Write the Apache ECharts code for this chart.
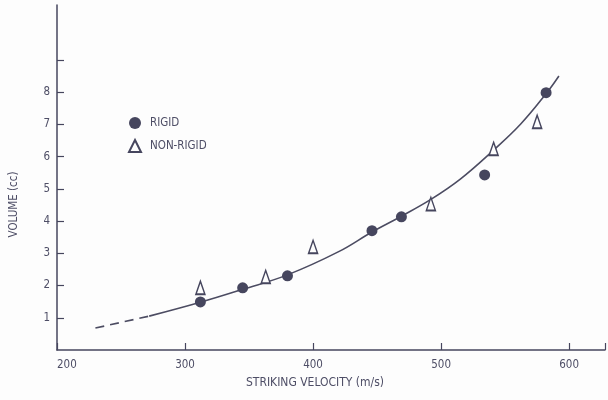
<!DOCTYPE html>
<html>
<head>
<meta charset="utf-8">
<script src="https://cdn.jsdelivr.net/npm/echarts@6/dist/echarts.min.js"></script>
<style>
html,body{margin:0;padding:0;background:#fdfdfd;}
#c{width:608px;height:400px;}
</style>
</head>
<body>
<div id="c"></div>
<script>
// Data
var rigidX = [312, 345, 380, 446, 469, 534, 582];
var rigidY = [1.49, 1.93, 2.30, 3.70, 4.13, 5.43, 7.98];
var nonRigidX = [312, 363, 400, 492, 541, 575];
var nonRigidY = [1.93, 2.27, 3.20, 4.53, 6.24, 7.08];
// fitted curve
var curveX = [272, 312, 345, 380, 420, 446, 469, 492, 515, 541, 562, 582, 592];
var curveY = [1.05, 1.48, 1.88, 2.33, 3.05, 3.66, 4.15, 4.67, 5.3, 6.2, 7.0, 7.95, 8.5];
var dashX = [230, 272];
var dashY = [0.68, 1.05];
var yTickLabels = ['1', '2', '3', '4', '5', '6', '7', '8'];
var xTickLabels = ['200', '300', '400', '500', '600'];

function pairs(xs, ys) { return xs.map(function (x, i) { return [x, ys[i]]; }); }

var ink = '#46465e';
var textCol = '#4e4e66';
var font = 'DejaVu Sans Condensed';

var chart = echarts.init(document.getElementById('c'));
chart.setOption({
  backgroundColor: '#fdfdfd',
  animation: false,
  grid: { left: 56, right: 1, top: 5, bottom: 50 },
  legend: {
    orient: 'vertical',
    left: 123, top: 112,
    itemGap: 10,
    itemWidth: 12, itemHeight: 12,
    data: ['RIGID', 'NON-RIGID'],
    textStyle: { color: textCol, fontFamily: font, fontSize: 11.5, padding: [0, 0, 0, 4] }
  },
  xAxis: {
    type: 'value', min: 200, max: 628, interval: 100,
    name: 'STRIKING VELOCITY (m/s)', nameLocation: 'middle', nameGap: 27,
    nameTextStyle: { color: textCol, fontFamily: font, fontSize: 12, padding: [0, 32, 0, 0] },
    axisLine: { lineStyle: { color: ink, width: 1.5 } },
    axisTick: { inside: true, length: 7, lineStyle: { color: ink, width: 1.2 } },
    axisLabel: {
      color: textCol, fontFamily: font, fontSize: 11.5, margin: 9, alignMinLabel: 'left',
      formatter: function (v) { return xTickLabels.indexOf(String(v)) >= 0 ? String(v) : ''; }
    },
    splitLine: { show: false }
  },
  yAxis: {
    type: 'value', min: 0, max: 10.7, interval: 1,
    name: 'VOLUME (cc)', nameLocation: 'middle', nameGap: 37,
    nameTextStyle: { color: textCol, fontFamily: font, fontSize: 11.5, padding: [0, 54, 0, 0] },
    axisLine: { lineStyle: { color: ink, width: 1.5 } },
    axisTick: { inside: true, length: 7, lineStyle: { color: ink, width: 1.2 }, customValues: [1, 2, 3, 4, 5, 6, 7, 8, 9] },
    axisLabel: {
      color: textCol, fontFamily: font, fontSize: 11.5, margin: 7,
      customValues: [1, 2, 3, 4, 5, 6, 7, 8],
      formatter: function (v) { return yTickLabels.indexOf(String(v)) >= 0 ? String(v) : ''; }
    },
    splitLine: { show: false }
  },
  series: [
    {
      name: 'curve', type: 'line', data: pairs(curveX, curveY), smooth: 0.4,
      showSymbol: false, symbol: 'none', z: 1,
      lineStyle: { color: '#4c4c62', width: 1.6 }
    },
    {
      name: 'curve-dash', type: 'line', data: pairs(dashX, dashY),
      showSymbol: false, symbol: 'none', z: 1,
      lineStyle: { color: '#4c4c62', width: 1.6, type: [9, 6] }
    },
    {
      name: 'RIGID', type: 'scatter', data: pairs(rigidX, rigidY),
      symbol: 'circle', symbolSize: 11, z: 3,
      itemStyle: { color: ink, opacity: 1 }
    },
    {
      name: 'NON-RIGID', type: 'scatter', data: pairs(nonRigidX, nonRigidY),
      symbol: 'triangle', symbolSize: [9, 13], z: 4,
      itemStyle: { color: '#fdfdfd', borderColor: ink, borderWidth: 1.6, opacity: 1 }
    }
  ]
});
</script>
</body>
</html>
